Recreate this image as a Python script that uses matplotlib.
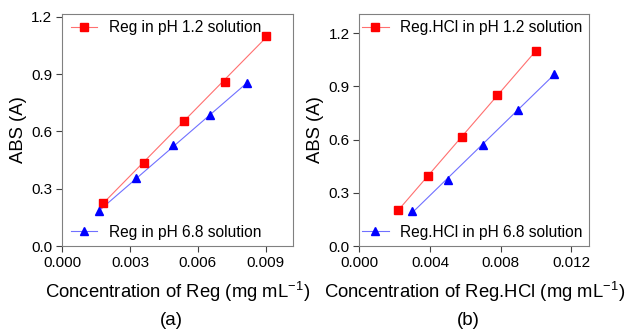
import numpy as np
import matplotlib
matplotlib.use("Agg")
import matplotlib.pyplot as plt
from matplotlib.lines import Line2D

plt.rcParams['font.family'] = ['Liberation Sans', 'DejaVu Sans']

# panel (a): Reg
reg_x_12 = [0.0018, 0.0036, 0.0054, 0.0072, 0.0090]
reg_y_12 = [0.227, 0.435, 0.657, 0.861, 1.100]
reg_x_68 = [0.00165, 0.00328, 0.00491, 0.00654, 0.00818]
reg_y_68 = [0.182, 0.355, 0.528, 0.685, 0.853]

# panel (b): Reg.HCl
hcl_x_12 = [0.0022, 0.0039, 0.0058, 0.0078, 0.0100]
hcl_y_12 = [0.203, 0.397, 0.613, 0.850, 1.102]
hcl_x_68 = [0.0030, 0.0050, 0.0070, 0.0090, 0.0110]
hcl_y_68 = [0.199, 0.371, 0.572, 0.769, 0.970]

panels = [
    dict(x1=reg_x_12, y1=reg_y_12, x2=reg_x_68, y2=reg_y_68, name='Reg',
         xlim=(0, 0.0102), ylim=(0, 1.215),
         xticks=[0.000, 0.003, 0.006, 0.009], tag='(a)', legx=0.012,
         rect=[0.0989, 0.259, 0.3684, 0.699]),
    dict(x1=hcl_x_12, y1=hcl_y_12, x2=hcl_x_68, y2=hcl_y_68, name='Reg.HCl',
         xlim=(0, 0.01302), ylim=(0, 1.309),
         xticks=[0.000, 0.004, 0.008, 0.012], tag='(b)', legx=-0.014,
         rect=[0.573, 0.259, 0.367, 0.699]),
]

red, blue = '#ff0000', '#0000ff'
red_l, blue_l = '#ff7070', '#7070ff'

fig = plt.figure(figsize=(6.27, 3.32), dpi=100)

for p in panels:
    ax = fig.add_axes(p['rect'])
    for xs, ys, c, lc, m in [(p['x1'], p['y1'], red, red_l, 's'),
                             (p['x2'], p['y2'], blue, blue_l, '^')]:
        xs = np.array(xs)
        k, b = np.polyfit(xs, ys, 1)
        xx = np.array([xs[0], xs[-1]])
        ax.plot(xx, k * xx + b, color=lc, lw=0.8, zorder=2)
        ax.plot(xs, ys, ls='none', marker=m, color=c, ms=5.5, mec=c, zorder=3)
    ax.set_xlim(*p['xlim'])
    ax.set_ylim(*p['ylim'])
    ax.set_xticks(p['xticks'])
    ax.set_xticklabels(['%.3f' % t for t in p['xticks']])
    ax.set_yticks([0.0, 0.3, 0.6, 0.9, 1.2])
    ax.set_yticklabels(['0.0', '0.3', '0.6', '0.9', '1.2'])
    for s in ax.spines.values():
        s.set_color('#808080')
        s.set_linewidth(0.8)
    ax.tick_params(direction='out', length=4, width=0.8, color='#404040',
                   labelsize=11, pad=3)
    ax.set_ylabel('ABS (A)', fontsize=13.3, labelpad=3)
    ax.set_xlabel('Concentration of %s (mg mL$^{\\mathregular{-1}}$)' % p['name'],
                  fontsize=13.3, labelpad=7)
    fig.text(p['rect'][0] + p['rect'][2] / 2 - 0.01, 0.036, p['tag'],
             ha='center', va='center', fontsize=13.5)

    h1 = Line2D([], [], color=red_l, lw=0.8, marker='s', mfc=red, mec=red, ms=5.5)
    h2 = Line2D([], [], color=blue_l, lw=0.8, marker='^', mfc=blue, mec=blue, ms=5.5)
    leg1 = ax.legend([h1], ['%s in pH 1.2 solution' % p['name']], loc='upper left',
                     frameon=False, fontsize=11.2, borderaxespad=0.0,
                     handlelength=1.7, handletextpad=0.75,
                     bbox_to_anchor=(p['legx'], 1.0))
    ax.add_artist(leg1)
    ax.legend([h2], ['%s in pH 6.8 solution' % p['name']], loc='lower left',
              frameon=False, fontsize=11.2, borderaxespad=0.0,
              handlelength=1.7, handletextpad=0.75,
              bbox_to_anchor=(p['legx'], 0.0))

fig.savefig('out.png', dpi=100)
